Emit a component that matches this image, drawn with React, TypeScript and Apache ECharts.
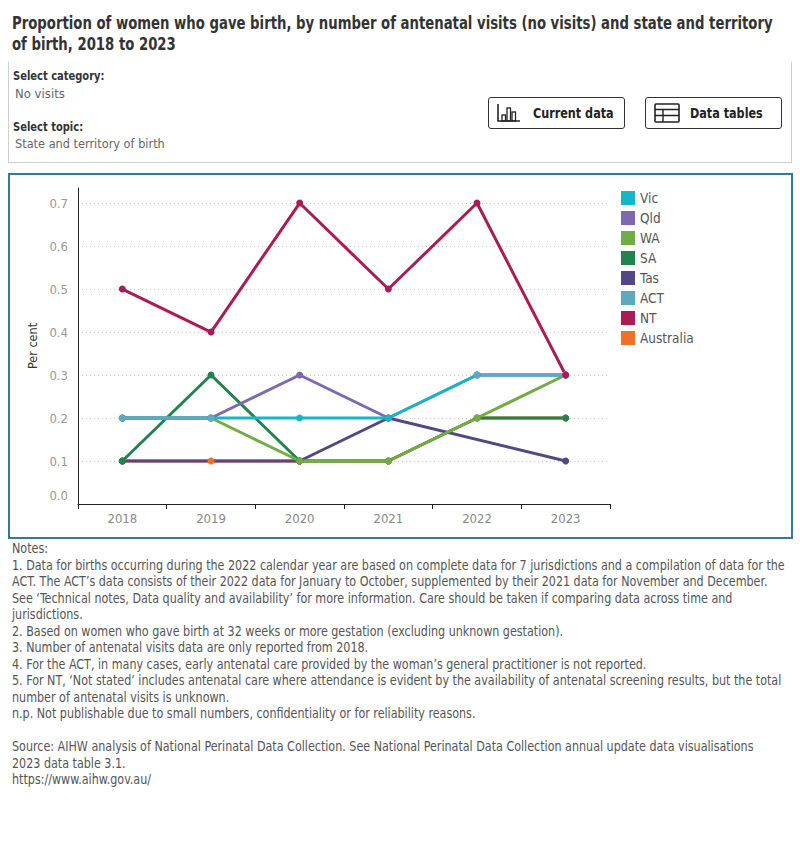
import React, { useEffect, useRef } from "react";
import * as echarts from "echarts";

const years = ["2018", "2019", "2020", "2021", "2022", "2023"];
const vic = [0.2, 0.2, 0.2, 0.2, 0.3, 0.3];
const qld = [0.2, 0.2, 0.3, 0.2, 0.3, 0.3];
const wa = [0.2, 0.2, 0.1, 0.1, 0.2, 0.3];
const sa = [0.1, 0.3, 0.1, 0.1, 0.2, 0.2];
const tas = [0.1, null, 0.1, 0.2, null, 0.1];
const act = [0.2, 0.2, null, null, 0.3, 0.3];
const nt = [0.5, 0.4, 0.7, 0.5, 0.7, 0.3];
const australia = [0.1, 0.1, 0.1, 0.1, 0.2, 0.2];
const yTicks = [0, 0.1, 0.2, 0.3, 0.4, 0.5, 0.6, 0.7];

const legendOrder = ["Vic", "Qld", "WA", "SA", "Tas", "ACT", "NT", "Australia"];
const colors: Record<string, string> = {
  Vic: "#17b6c6",
  Qld: "#7d68b2",
  WA: "#72ac44",
  SA: "#23834e",
  Tas: "#544786",
  ACT: "#60a8c0",
  NT: "#ac1c54",
  Australia: "#f07025",
};
// drawing order: bottom to top
const drawOrder: [string, (number | null)[], boolean][] = [
  ["Australia", australia, false],
  ["Tas", tas, true],
  ["SA", sa, false],
  ["Qld", qld, false],
  ["WA", wa, false],
  ["Vic", vic, false],
  ["ACT", act, false],
  ["NT", nt, false],
];

const FONT = "'Liberation Sans Narrow', 'DejaVu Sans Condensed', Arial, sans-serif";

const titleLines = [
  "Proportion of women who gave birth, by number of antenatal visits (no visits) and state and territory",
  "of birth, 2018 to 2023",
];

const notes = [
  "Notes:",
  "1. Data for births occurring during the 2022 calendar year are based on complete data for 7 jurisdictions and a compilation of data for the",
  "ACT. The ACT\u2019s data consists of their 2022 data for January to October, supplemented by their 2021 data for November and December.",
  "See \u2018Technical notes, Data quality and availability\u2019 for more information. Care should be taken if comparing data across time and",
  "jurisdictions.",
  "2. Based on women who gave birth at 32 weeks or more gestation (excluding unknown gestation).",
  "3. Number of antenatal visits data are only reported from 2018.",
  "4. For the ACT, in many cases, early antenatal care provided by the woman\u2019s general practitioner is not reported.",
  "5. For NT, \u2018Not stated\u2019 includes antenatal care where attendance is evident by the availability of antenatal screening results, but the total",
  "number of antenatal visits is unknown.",
  "n.p. Not publishable due to small numbers, confidentiality or for reliability reasons.",
  "",
  "Source: AIHW analysis of National Perinatal Data Collection. See National Perinatal Data Collection annual update data visualisations",
  "2023 data table 3.1.",
  "https://www.aihw.gov.au/",
];

function Chart() {
  const ref = useRef<HTMLDivElement>(null);
  useEffect(() => {
    if (!ref.current) return;
    const chart = echarts.init(ref.current, undefined, { renderer: "svg" });
    chart.setOption({
      animation: false,
      textStyle: { fontFamily: FONT },
      grid: { left: 78, right: 190, top: 14, bottom: 40 },
      legend: {
        data: legendOrder.map((n) => ({ name: n })),
        orient: "vertical",
        left: 621,
        top: 17,
        itemWidth: 14,
        itemHeight: 14,
        itemGap: 6,
        icon: "rect",
        padding: 0,
        selectedMode: false,
        textStyle: { fontSize: 13.5, color: "#555", lineHeight: 14, fontFamily: FONT, padding: [0, 0, 0, 0] },
      },
      xAxis: {
        type: "category",
        data: years,
        boundaryGap: true,
        axisLine: { lineStyle: { color: "#222", width: 1 } },
        axisTick: { show: true, length: 5, lineStyle: { color: "#222" } },
        axisLabel: { color: "#888", fontSize: 13, margin: 8, fontFamily: FONT },
        splitLine: { show: false },
      },
      yAxis: {
        type: "value",
        min: 0,
        max: 0.735,
        interval: 0.1,
        name: "Per cent",
        nameLocation: "middle",
        nameGap: 30,
        nameTextStyle: { color: "#333", fontSize: 12.5, fontFamily: FONT },
        axisLine: { show: true, lineStyle: { color: "#222", width: 1 } },
        axisTick: { show: false },
        axisLabel: {
          showMaxLabel: false,
          color: "#999",
          fontSize: 13,
          margin: 10,
          fontFamily: FONT,
          formatter: (v: number) => {
            const t = yTicks.find((x) => Math.abs(x - v) < 1e-6);
            if (t === undefined) return "";
            return t === 0 ? "{z|0.0}" : t.toFixed(1);
          },
          rich: { z: { color: "#999", fontSize: 13, fontFamily: FONT, padding: [0, 0, 18, 0] } },
        },
        splitLine: {
          show: true,
          showMinLine: false,
          showMaxLine: false,
          lineStyle: { color: "#c8c8c8", type: [1, 3], width: 1 },
        },
      },
      series: drawOrder.map(([name, data, connect]) => ({
        name,
        type: "line",
        data,
        connectNulls: connect,
        symbol: "circle",
        symbolSize: 7,
        showSymbol: true,
        lineStyle: { width: 3, color: colors[name] },
        itemStyle: { color: colors[name] },
        emphasis: { disabled: true },
      })),
    });
    return () => chart.dispose();
  }, []);
  return <div ref={ref} style={{ position: "absolute", left: 0, top: 174, width: 800, height: 370 }} />;
}

function Sx({ s, children }: { s: number; children: React.ReactNode }) {
  return (
    <span style={{ display: "inline-block", whiteSpace: "nowrap", transform: `scaleX(${s})`, transformOrigin: "left center" }}>
      {children}
    </span>
  );
}

function BarIcon() {
  return (
    <svg width="24" height="20" viewBox="0 0 24 20" style={{ display: "block" }}>
      <path d="M1 1 V18 H23" fill="none" stroke="#222" strokeWidth="1.6" />
      <rect x="5" y="12" width="3.5" height="6" fill="none" stroke="#222" strokeWidth="1.3" />
      <rect x="10" y="5" width="3.5" height="13" fill="none" stroke="#222" strokeWidth="1.3" />
      <rect x="15" y="9" width="3.5" height="9" fill="none" stroke="#222" strokeWidth="1.3" />
    </svg>
  );
}

function TableIcon() {
  return (
    <svg width="26" height="20" viewBox="0 0 26 20" style={{ display: "block" }}>
      <rect x="1" y="1" width="24" height="18" rx="1" fill="none" stroke="#222" strokeWidth="1.6" />
      <line x1="1" y1="6.5" x2="25" y2="6.5" stroke="#222" strokeWidth="1.4" />
      <line x1="1" y1="12.5" x2="25" y2="12.5" stroke="#222" strokeWidth="1.4" />
      <line x1="9" y1="6.5" x2="9" y2="19" stroke="#222" strokeWidth="1.4" />
    </svg>
  );
}

const btn: React.CSSProperties = {
  position: "absolute",
  top: 97,
  width: 137,
  height: 32,
  boxSizing: "border-box",
  border: "1.5px solid #333",
  borderRadius: 3,
  background: "#fff",
  display: "flex",
  alignItems: "center",
  fontWeight: "bold",
  fontSize: 14,
  color: "#222",
  overflow: "hidden",
};

export default function App() {
  return (
    <div style={{ position: "absolute", left: 0, top: 0, width: 800, height: 850, background: "#fff", fontFamily: FONT }}>
      <div
        style={{
          position: "absolute",
          left: 12,
          top: 13,
          fontSize: 17,
          lineHeight: "21px",
          fontWeight: "bold",
          color: "#333",
        }}
      >
        {titleLines.map((l, i) => (
          <div key={i}>
            <Sx s={0.866}>{l}</Sx>
          </div>
        ))}
      </div>
      <div
        style={{
          position: "absolute",
          left: 8,
          top: 62,
          width: 784,
          height: 101,
          boxSizing: "border-box",
          borderLeft: "1px solid #cfcfcf",
          borderRight: "1px solid #cfcfcf",
          borderBottom: "1px solid #cfcfcf",
        }}
      />
      <div style={{ position: "absolute", left: 13, top: 68, fontSize: 13, fontWeight: "bold", color: "#333" }}>
        <Sx s={0.85}>Select category:</Sx>
      </div>
      <div style={{ position: "absolute", left: 15, top: 86, fontSize: 13, color: "#666" }}>No visits</div>
      <div style={{ position: "absolute", left: 13, top: 119, fontSize: 13, fontWeight: "bold", color: "#333" }}>
        <Sx s={0.85}>Select topic:</Sx>
      </div>
      <div style={{ position: "absolute", left: 15, top: 136, fontSize: 13, color: "#666" }}>
        <Sx s={0.97}>State and territory of birth</Sx>
      </div>
      <div style={{ ...btn, left: 488 }}>
        <div style={{ marginLeft: 8, marginRight: 12 }}>
          <BarIcon />
        </div>
        <Sx s={0.89}>Current data</Sx>
      </div>
      <div style={{ ...btn, left: 645 }}>
        <div style={{ marginLeft: 8, marginRight: 10 }}>
          <TableIcon />
        </div>
        <Sx s={0.89}>Data tables</Sx>
      </div>
      <Chart />
      <div
        style={{
          position: "absolute",
          left: 8,
          top: 173,
          width: 785,
          height: 366,
          boxSizing: "border-box",
          border: "2px solid #2e7c97",
          pointerEvents: "none",
        }}
      />
      <div style={{ position: "absolute", left: 12, top: 540, fontSize: 13.5, lineHeight: "16.5px", color: "#555" }}>
        {notes.map((l, i) => (
          <div key={i} style={{ height: 16.5 }}>
            <Sx s={0.918}>{l}</Sx>
          </div>
        ))}
      </div>
    </div>
  );
}
